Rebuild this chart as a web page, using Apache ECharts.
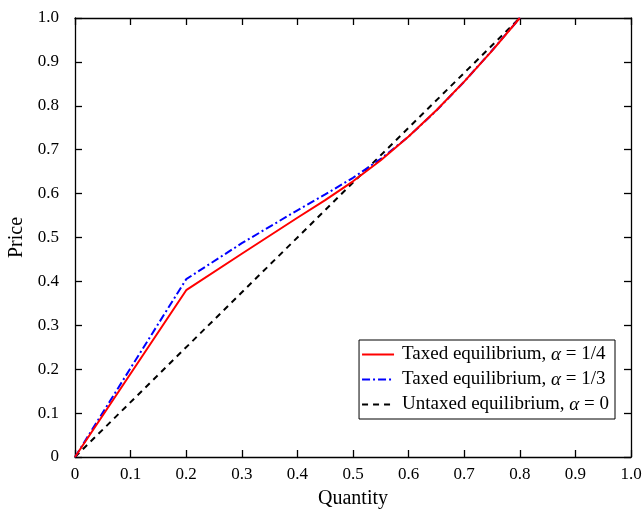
<!DOCTYPE html>
<html><head><meta charset="utf-8">
<script src="https://cdn.jsdelivr.net/npm/echarts@6/dist/echarts.min.js"></script>
<style>html,body{margin:0;padding:0;background:#fff}#c{width:644px;height:512px}</style>
</head><body><div id="c"></div>
<script>
var quantity = [0, 0.2, 0.3, 0.4, 0.45, 0.5, 0.55, 0.6, 0.65, 0.7, 0.75, 0.8];
var taxedQuarter = [0, 0.38, 0.463, 0.545, 0.585, 0.628, 0.676, 0.73, 0.79, 0.855, 0.925, 1.0];
var taxedThird = [0, 0.405, 0.487, 0.562, 0.598, 0.636, 0.679, 0.73, 0.789, 0.855, 0.926, 1.0];
var untaxedQ = [0, 0.8];
var untaxedP = [0, 1.0];
var seriesNames = ['Taxed equilibrium, α = 1/4', 'Taxed equilibrium, α = 1/3', 'Untaxed equilibrium, α = 0'];

function pairs(xs, ys) { return xs.map(function (x, i) { return [x, ys[i]]; }); }
function fmt(v) { return v === 0 ? '0' : v.toFixed(1); }
var font = 'Liberation Serif';
function axisBase() {
  return {
    type: 'value', min: 0, max: 1, interval: 0.1,
    axisLine: { show: true, onZero: false, lineStyle: { color: '#000', width: 1.3 } },
    axisTick: { show: true, inside: true, length: 7, lineStyle: { color: '#000', width: 1.3 } },
    splitLine: { show: false }
  };
}
var chart = echarts.init(document.getElementById('c'));
chart.setOption({
  animation: false,
  backgroundColor: '#fff',
  grid: { left: 75, right: 13, top: 18, bottom: 55, containLabel: false, outerBoundsMode: 'none' },
  xAxis: [
    Object.assign(axisBase(), {
      position: 'bottom', name: 'Quantity', nameLocation: 'middle', nameGap: 32,
      nameTextStyle: { fontFamily: font, fontSize: 20, color: '#000' },
      axisLabel: { formatter: fmt, fontFamily: font, fontSize: 17, color: '#000', margin: 9 }
    }),
    Object.assign(axisBase(), { position: 'top', axisLabel: { show: false } })
  ],
  yAxis: [
    Object.assign(axisBase(), {
      position: 'left', name: 'Price', nameLocation: 'middle', nameGap: 42,
      nameTextStyle: { fontFamily: font, fontSize: 20, color: '#000' },
      axisLabel: { formatter: fmt, fontFamily: font, fontSize: 17, color: '#000', margin: 16 }
    }),
    Object.assign(axisBase(), { position: 'right', axisLabel: { show: false } })
  ],
  legend: {
    right: 29, top: 340, orient: 'vertical',
    backgroundColor: '#fff', borderColor: '#000', borderWidth: 1, borderRadius: 0,
    padding: [5, 6, 5, 2], itemGap: 6, itemWidth: 32, itemHeight: 22,
    itemStyle: { opacity: 0 },
    data: seriesNames,
    formatter: function (name) {
      var parts = name.split('α');
      return parts[0] + '{a|α}' + parts[1];
    },
    textStyle: {
      fontFamily: font, fontSize: 19, color: '#000', padding: [0, 0, 0, 3],
      rich: { a: { fontFamily: font, fontStyle: 'italic', fontSize: 19, color: '#000' } }
    }
  },
  series: [
    { name: seriesNames[2], type: 'line', data: pairs(untaxedQ, untaxedP), showSymbol: false, symbol: 'none',
      lineStyle: { color: '#000', width: 2, type: [6, 5] }, itemStyle: { color: '#000' }, z: 1 },
    { name: seriesNames[1], type: 'line', data: pairs(quantity, taxedThird), showSymbol: false, symbol: 'none',
      lineStyle: { color: '#0000ff', width: 2, type: [8, 3, 2, 3] }, itemStyle: { color: '#0000ff' }, z: 2 },
    { name: seriesNames[0], type: 'line', data: pairs(quantity, taxedQuarter), showSymbol: false, symbol: 'none',
      lineStyle: { color: '#ff0000', width: 2 }, itemStyle: { color: '#ff0000' }, z: 3 }
  ]
});
</script></body></html>
